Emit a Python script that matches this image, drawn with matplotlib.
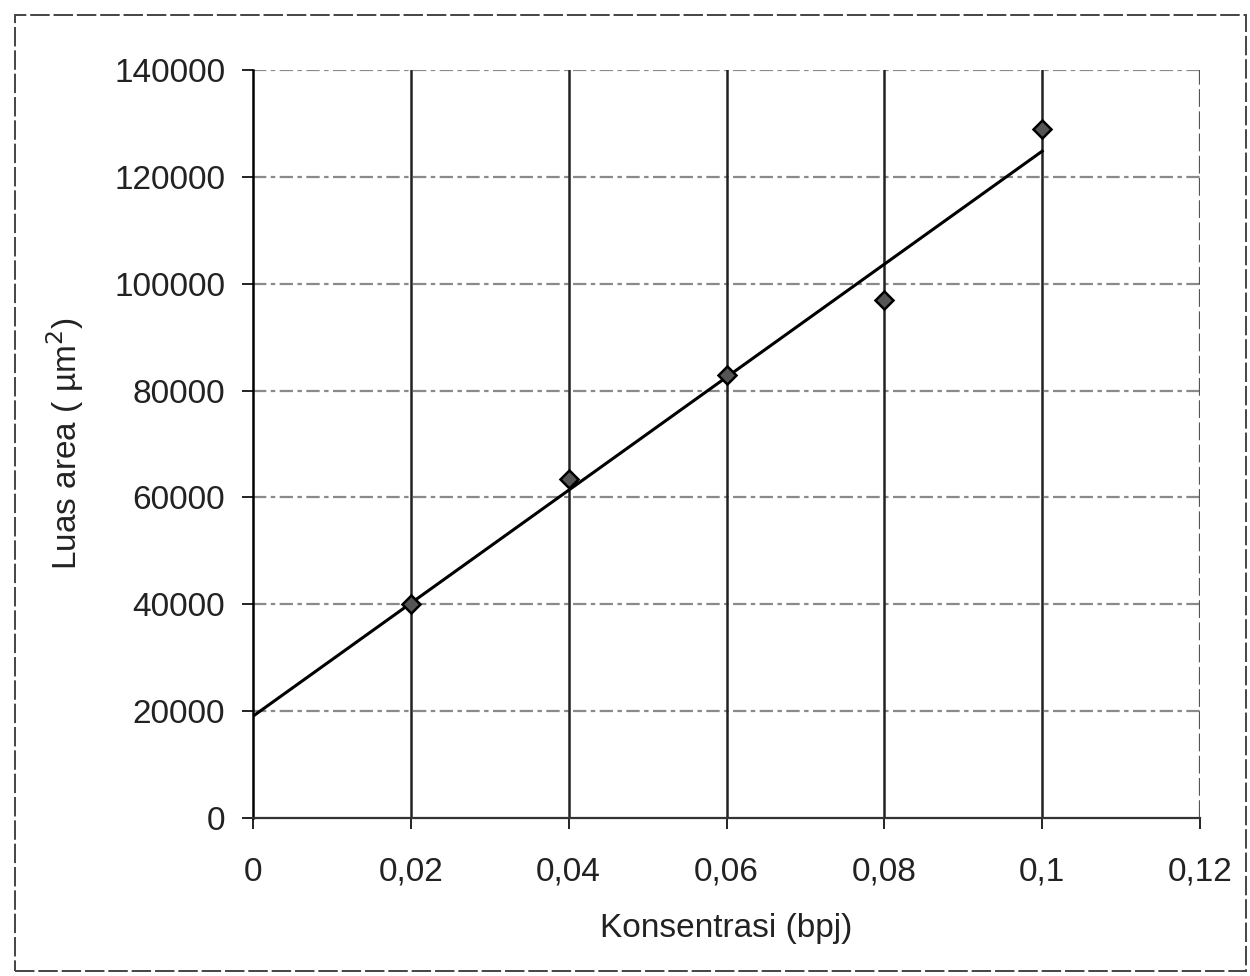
import numpy as np
import matplotlib
matplotlib.use('Agg')
import matplotlib.pyplot as plt
from matplotlib.patches import Rectangle

# data
konsentrasi = [0.02, 0.04, 0.06, 0.08, 0.10]
luas_area = [40000, 63500, 83000, 97000, 129000]

x_ticks = [0, 0.02, 0.04, 0.06, 0.08, 0.10, 0.12]
x_ticklabels = ['0', '0,02', '0,04', '0,06', '0,08', '0,1', '0,12']
y_ticks = [0, 20000, 40000, 60000, 80000, 100000, 120000, 140000]
y_ticklabels = [str(v) for v in y_ticks]

plt.rcParams['font.family'] = ['Liberation Sans', 'DejaVu Sans']

fig = plt.figure(figsize=(12.5, 9.76), dpi=100)
ax = fig.add_axes([0.2024, 0.1619, 0.7576, 0.7664])

# linear trendline from the points, drawn from 0 to the last point
slope, intercept = np.polyfit(konsentrasi, luas_area, 1)
xl = np.array([0, konsentrasi[-1]])
ax.plot(xl, slope * xl + intercept, color='black', lw=2.2, zorder=3)

ax.plot(konsentrasi, luas_area, linestyle='none', marker='D', markersize=9,
        markerfacecolor='#555555', markeredgecolor='black', markeredgewidth=1.8, zorder=4)

ax.set_xlim(0, 0.12)
ax.set_ylim(0, 140000)
ax.set_xticks(x_ticks)
ax.set_xticklabels(x_ticklabels)
ax.set_yticks(y_ticks)
ax.set_yticklabels(y_ticklabels)

# horizontal grid grey dashed, vertical grid solid black
for yv in y_ticks[1:]:
    ax.axhline(yv, color='#8a8a8a', lw=1.6, ls=(0, (6, 2, 2, 2)), zorder=1)
for xv in x_ticks[1:-1]:
    ax.axvline(xv, color='#222222', lw=1.8, zorder=1)
ax.axvline(x_ticks[-1], color='#555555', lw=1.6, ls=(0, (8, 2)), zorder=1)

for side in ['top', 'right']:
    ax.spines[side].set_visible(False)
ax.spines['left'].set_linewidth(1.8)
ax.spines['bottom'].set_linewidth(1.6)
ax.spines['bottom'].set_color('#333333')

ax.tick_params(axis='both', direction='out', length=8, width=1.4, labelsize=24, colors='#222222')
ax.tick_params(axis='x', pad=20)
ax.tick_params(axis='y', pad=12)

ax.set_xlabel('Konsentrasi (bpj)', fontsize=24, labelpad=18, color='#222222')
ax.set_ylabel('Luas area ( \u00b5m$^2$)', fontsize=24, labelpad=20, color='#222222')

# scanned page frame
fig.patches.append(Rectangle((0.012, 0.005), 0.985, 0.98, transform=fig.transFigure,
                             fill=False, edgecolor='#444444', lw=1.4, ls=(0, (10, 2))))

fig.savefig('out.png', dpi=100)
